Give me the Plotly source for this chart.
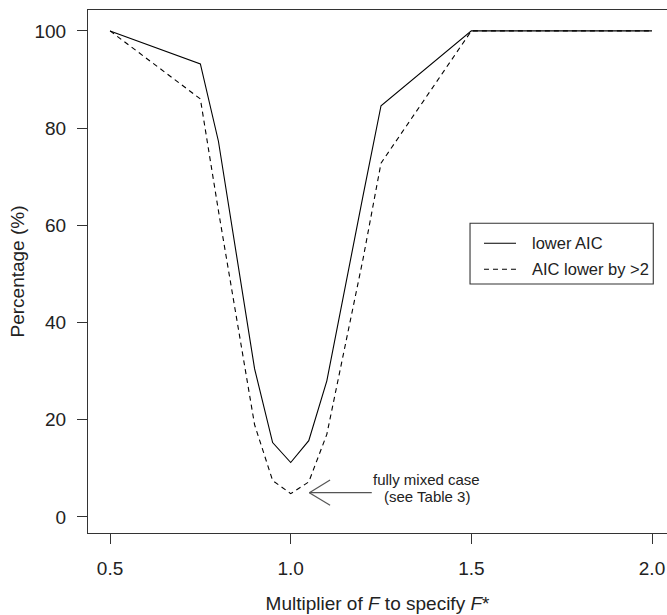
import plotly.graph_objects as go

multiplier = [0.5, 0.75, 0.8, 0.9, 0.95, 1.0, 1.05, 1.1, 1.2, 1.25, 1.5, 2.0]
lower_aic = [100, 93.2, 77.3, 30.5, 15.3, 11.2, 15.7, 28.0, 66.0, 84.6, 100, 100]
aic_lower_by2 = [100, 86.0, 63.0, 19.0, 7.5, 4.8, 7.2, 17.0, 53.0, 72.8, 100, 100]
series_names = ["lower AIC", "AIC lower by >2"]

x_ticks = [0.5, 1.0, 1.5, 2.0]
x_tick_text = ["0.5", "1.0", "1.5", "2.0"]
y_ticks = [0, 20, 40, 60, 80, 100]

FONT = "Liberation Sans, Arial, Helvetica, sans-serif"
TXT = "#222222"
AX = "#333333"
DASH = "5px,4px"

fig = go.Figure()
fig.add_trace(go.Scatter(x=multiplier, y=lower_aic, mode="lines", name=series_names[0],
                         line=dict(color="black", width=1.1)))
fig.add_trace(go.Scatter(x=multiplier, y=aic_lower_by2, mode="lines", name=series_names[1],
                         line=dict(color="black", width=1.1, dash=DASH)))

# annotation arrow (open chevron head, as in R's arrows())
tip_x, tip_y = 1.0516, 5.0
tail_x = 1.2244
head_x, head_dy = 1.109, 2.6
arrow_col = "#555555"
fig.add_shape(type="line", x0=tip_x, y0=tip_y, x1=tail_x, y1=tip_y,
              line=dict(color=arrow_col, width=1.4))
fig.add_shape(type="line", x0=tip_x, y0=tip_y, x1=head_x, y1=tip_y + head_dy,
              line=dict(color=arrow_col, width=1.2))
fig.add_shape(type="line", x0=tip_x, y0=tip_y, x1=head_x, y1=tip_y - head_dy,
              line=dict(color=arrow_col, width=1.2))
fig.add_annotation(x=1.377, y=7.7, text="fully mixed case",
                   showarrow=False, font=dict(family=FONT, size=15, color=TXT))
fig.add_annotation(x=1.377, y=4.2, text="(see Table 3)",
                   showarrow=False, font=dict(family=FONT, size=15, color=TXT))

# legend box drawn R-style (paper coordinates)
leg_x0, leg_x1, leg_y0, leg_y1 = 0.6598, 0.9763, 0.4761, 0.5922
samp_x0, samp_x1 = 0.6839, 0.7392
row_y = [0.5539, 0.5042]
text_x = 0.7634
fig.add_shape(type="rect", xref="paper", yref="paper",
              x0=leg_x0, x1=leg_x1, y0=leg_y0, y1=leg_y1,
              line=dict(color=AX, width=1.1), fillcolor="white", layer="above")
for i, nm in enumerate(series_names):
    fig.add_shape(type="line", xref="paper", yref="paper",
                  x0=samp_x0, x1=samp_x1, y0=row_y[i], y1=row_y[i],
                  line=dict(color="black", width=1.1, dash="solid" if i == 0 else DASH),
                  layer="above")
    fig.add_annotation(xref="paper", yref="paper", x=text_x, y=row_y[i], text=nm,
                       xanchor="left", yanchor="middle", showarrow=False,
                       font=dict(family=FONT, size=16.5, color=TXT))

fig.update_layout(
    width=667, height=615,
    margin=dict(l=88, r=0, t=10, b=82),
    paper_bgcolor="white", plot_bgcolor="white",
    font=dict(family=FONT, color=TXT),
    showlegend=False,
    xaxis=dict(range=[0.439, 2.0415], tickvals=x_ticks, ticktext=x_tick_text,
               automargin=False,
               ticks="outside", ticklen=10, tickcolor=AX, tickwidth=1,
               ticklabelstandoff=8,
               showline=True, linecolor=AX, linewidth=1.2, mirror=True,
               showgrid=False, zeroline=False,
               tickfont=dict(family=FONT, size=19, color=TXT),
               title=dict(text="Multiplier of <i>F</i> to specify <i>F</i>*",
                          font=dict(family=FONT, size=19, color=TXT), standoff=18)),
    yaxis=dict(range=[-3.3, 104.3], tickvals=y_ticks,
               automargin=False,
               ticks="outside", ticklen=10, tickcolor=AX, tickwidth=1,
               ticklabelstandoff=7,
               showline=True, linecolor=AX, linewidth=1.2,
               showgrid=False, zeroline=False,
               tickfont=dict(family=FONT, size=19, color=TXT),
               title=dict(text="Percentage (%)",
                          font=dict(family=FONT, size=19, color=TXT), standoff=4)),
)

fig.write_html("out.html", config={"displayModeBar": False},
               post_script="document.body.style.margin='0';document.body.style.overflow='hidden';")
